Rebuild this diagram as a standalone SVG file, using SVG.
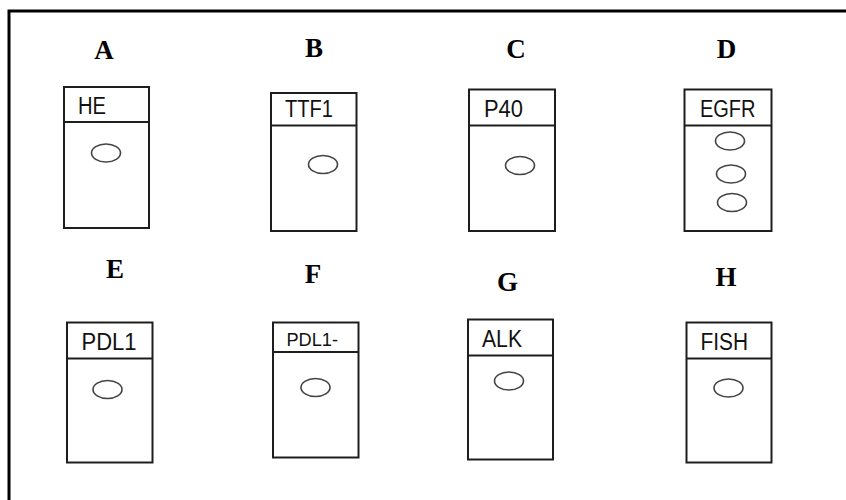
<svg xmlns="http://www.w3.org/2000/svg" width="846" height="500" viewBox="0 0 846 500">
  <style>
    .frame { fill: none; stroke: #000; stroke-width: 3; }
    .box { fill: #fff; stroke: #1e1e1e; stroke-width: 2; }
    .div { stroke: #1e1e1e; stroke-width: 2; }
    .spot { fill: none; stroke: #444; stroke-width: 1.6; }
    .letter { font-family: "Liberation Serif", "Times New Roman", serif; font-weight: bold; font-size: 27px; fill: #000; text-anchor: middle; }
    .hdr { font-family: "Liberation Sans", Arial, sans-serif; font-size: 23px; fill: #111; }
    .hdr-sm { font-family: "Liberation Sans", Arial, sans-serif; font-size: 19px; fill: #111; }
  </style>
  <rect width="846" height="500" fill="#fff"/>
  <!-- outer frame: top and left edges only visible -->
  <path class="frame" d="M9 500 V11 H846"/>

  <!-- row 1 -->
  <g id="panel-A">
    <text class="letter" x="104" y="59">A</text>
    <rect class="box" x="64" y="87" width="85" height="141"/>
    <line class="div" x1="64" y1="122" x2="149" y2="122"/>
    <text class="hdr" x="78" y="113.5" textLength="28" lengthAdjust="spacingAndGlyphs">HE</text>
    <ellipse class="spot" cx="106" cy="153" rx="14.5" ry="9"/>
  </g>
  <g id="panel-B">
    <text class="letter" x="314" y="57">B</text>
    <rect class="box" x="271" y="93" width="85.5" height="138"/>
    <line class="div" x1="271" y1="125.5" x2="356.5" y2="125.5"/>
    <text class="hdr" x="285" y="117" textLength="48" lengthAdjust="spacingAndGlyphs">TTF1</text>
    <ellipse class="spot" cx="323" cy="164.5" rx="14.5" ry="9"/>
  </g>
  <g id="panel-C">
    <text class="letter" x="516" y="58">C</text>
    <rect class="box" x="469" y="89.5" width="86" height="141.5"/>
    <line class="div" x1="469" y1="125.5" x2="555" y2="125.5"/>
    <text class="hdr" x="484" y="117" textLength="39" lengthAdjust="spacingAndGlyphs">P40</text>
    <ellipse class="spot" cx="520" cy="165.5" rx="14.5" ry="9"/>
  </g>
  <g id="panel-D">
    <text class="letter" x="726.5" y="58">D</text>
    <rect class="box" x="684.5" y="89.5" width="87" height="141.5"/>
    <line class="div" x1="684.5" y1="125.5" x2="771.5" y2="125.5"/>
    <text class="hdr" x="700" y="117" textLength="55.5" lengthAdjust="spacingAndGlyphs">EGFR</text>
    <ellipse class="spot" cx="730" cy="141" rx="14.5" ry="9"/>
    <ellipse class="spot" cx="731" cy="174" rx="14.5" ry="9"/>
    <ellipse class="spot" cx="732" cy="202.5" rx="14.5" ry="9"/>
  </g>

  <!-- row 2 -->
  <g id="panel-E">
    <text class="letter" x="115" y="278">E</text>
    <rect class="box" x="67" y="322.5" width="85.5" height="140"/>
    <line class="div" x1="67" y1="358.5" x2="152.5" y2="358.5"/>
    <text class="hdr" x="81.5" y="350" textLength="55" lengthAdjust="spacingAndGlyphs">PDL1</text>
    <ellipse class="spot" cx="107.5" cy="389.5" rx="14.5" ry="9"/>
  </g>
  <g id="panel-F">
    <text class="letter" x="313" y="283">F</text>
    <rect class="box" x="273" y="322.5" width="85.5" height="135"/>
    <line class="div" x1="273" y1="352" x2="358.5" y2="352"/>
    <text class="hdr-sm" x="286.5" y="346" textLength="51.5" lengthAdjust="spacingAndGlyphs">PDL1-</text>
    <ellipse class="spot" cx="315.5" cy="387.5" rx="14.5" ry="9"/>
  </g>
  <g id="panel-G">
    <text class="letter" x="507.5" y="291">G</text>
    <rect class="box" x="468" y="319.5" width="85" height="140"/>
    <line class="div" x1="468" y1="355.5" x2="553" y2="355.5"/>
    <text class="hdr" x="482" y="346.5" textLength="40" lengthAdjust="spacingAndGlyphs">ALK</text>
    <ellipse class="spot" cx="509" cy="381" rx="14.5" ry="9"/>
  </g>
  <g id="panel-H">
    <text class="letter" x="726" y="286">H</text>
    <rect class="box" x="686.5" y="322.5" width="85" height="140"/>
    <line class="div" x1="686.5" y1="358.5" x2="771.5" y2="358.5"/>
    <text class="hdr" x="700.5" y="350" textLength="47.5" lengthAdjust="spacingAndGlyphs">FISH</text>
    <ellipse class="spot" cx="728.5" cy="388" rx="14.5" ry="9"/>
  </g>

  <g id="connectors"/>
</svg>
